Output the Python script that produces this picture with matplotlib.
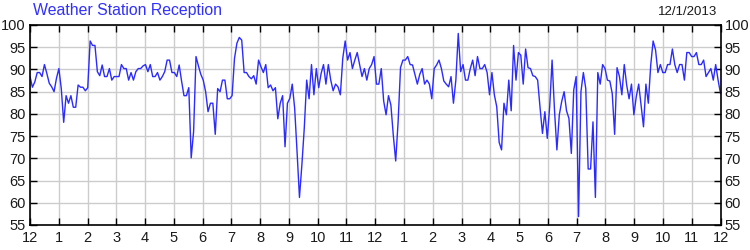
import numpy as np
import matplotlib
matplotlib.use("Agg")
import matplotlib.pyplot as plt

title = "Weather Station Reception"
date_label = "12/1/2013"
month_labels = ["12", "1", "2", "3", "4", "5", "6", "7", "8", "9", "10", "11",
                "12", "1", "2", "3", "4", "5", "6", "7", "8", "9", "10", "11", "12"]
y_ticks = [55, 60, 65, 70, 75, 80, 85, 90, 95, 100]

seg1 = [88.4, 86, 87.2, 89.3, 89.3, 88.4, 91.1, 89.1, 86.9, 86.1, 85, 88, 90.2, 85.7, 78.1, 84.1,
        82.4, 84.1, 81.5, 81.5, 86.5, 86, 86, 85.2, 85.9, 96.4, 95.4, 95.4, 89.5, 88.6, 91, 88.4,
        88.4, 90.2, 87.6, 88.4, 88.4, 88.4, 91.1, 90.2, 90.2, 87.6, 89.3, 87.6, 89.5, 90.2, 90.2, 90.8]
seg2 = [91.1, 89.5, 91.1, 88.4, 88.4, 89.3, 87.6, 88.4, 89.5, 92.1, 92.1, 89.3, 89.3, 88.4, 91, 87.4,
        84.1, 84.1, 85.9, 70.1, 76, 92.9, 90.8, 88.9, 87.6, 85, 80.5, 82.4, 82.4, 75.4, 85.7, 85,
        87.6, 87.6, 83.4, 83.4, 84.1, 92.5, 95.9, 97.2, 96.6, 89.3, 89.3, 88.4, 87.9, 88.6, 86.7, 92.1, 90.6]
seg3 = [89.3, 91.1, 85.9, 86.5, 85.2, 85.9, 78.9, 82.4, 84.1, 72.6, 82.4, 83.5, 86.7, 81.3, 71.5, 61.2,
        68.5, 76.8, 87.6, 83.4, 91.1, 84.3, 90.2, 85.9, 89.1, 91.1, 86.7, 91.1, 87.6, 85.2, 86.7, 86.1,
        84.3, 92.5, 96.4, 92.1, 93.8, 90.2, 92.1, 93.8, 91.1, 88.4, 90.2, 87.6, 90.2, 91.1, 92.9, 86.7]
seg4 = [86.7, 90.2, 82.9, 79.8, 84.1, 82, 75.2, 69.4, 78.2, 90.4, 92.1, 92.1, 92.9, 91.1, 91, 88.9,
        86.7, 88.9, 90.2, 86.7, 87.6, 86.7, 83.4, 90.2, 91, 92.1, 90.2, 87.4, 86.7, 86.1, 88.4, 82.4,
        87.6, 98.1, 89.5, 91.1, 87.6, 87.6, 90.2, 92.1, 88.6, 92.9, 90.2, 90.2, 91.1, 89.3, 84.3]
seg5 = [89.3, 84.3, 81.6, 73.6, 71.9, 82.4, 79.8, 87.6, 80.7, 95.4, 87.6, 93.8, 93.2, 86.7, 94.6, 90.4,
        90.2, 88.6, 88.4, 87.6, 81.4, 75.6, 80.5, 74.5, 81.6, 92.1, 80.9, 71.9, 79.8, 82.8, 85, 80.7,
        79, 71.1, 85.4, 88.4, 56.9, 85, 89.3, 85.7, 67.6, 67.6, 78.2, 61.2, 89.3, 86.7, 91.1, 90.2]
seg6 = [87.6, 87.4, 84.6, 75.4, 90.4, 88.4, 84.3, 91.1, 86.5, 83.4, 86.7, 79.8, 83.9, 86.7, 82, 77.1,
        86.7, 82.4, 91, 96.4, 94.4, 89.3, 91.1, 89.3, 89.3, 91.1, 91.1, 94.6, 91.1, 89.3, 91.1, 91.1,
        87.6, 93.8, 93.8, 92.9, 92.9, 93.8, 91.1, 91.1, 92.1, 88.4, 89.3, 90.2, 87.6, 91.1, 87.6, 84.6]

reception = np.array(seg1 + seg2 + seg3 + seg4 + seg5 + seg6)
months = np.linspace(0, len(month_labels) - 1, len(reception))

plt.rcParams['font.family'] = ['Liberation Sans', 'DejaVu Sans']

fig = plt.figure(figsize=(7.5, 2.5), dpi=100)
ax = fig.add_axes([30 / 750, 25 / 250, 690.5 / 750, 200 / 250])

ax.plot(months, reception, color='#2b2bff', lw=1.0)

ax.set_xlim(0, len(month_labels) - 1)
ax.set_ylim(55, 100)
ax.set_xticks(range(len(month_labels)))
ax.set_xticklabels(month_labels)
ax.set_yticks(y_ticks)
ax.set_yticklabels([str(v) for v in y_ticks])
ax.grid(True, color='#cccccc', lw=1.0)
ax.set_axisbelow(True)
for s in ax.spines.values():
    s.set_color('black')
    s.set_linewidth(1.2)
ax.tick_params(axis='both', direction='in', length=5, width=1, colors='black',
               labelcolor='#1a1a1a', labelsize=10.5, top=True, right=True,
               labelleft=True, labelright=True)
ax.tick_params(axis='x', pad=4)
ax.tick_params(axis='y', pad=3)

fig.text(33 / 750, 1 - 11 / 250, title, color='#3030ff', fontsize=11.4, va='center', ha='left')
fig.text(717 / 750, 1 - 12 / 250, date_label, color='#1a1a1a', fontsize=9.5, va='center', ha='right')

fig.savefig('out.png', dpi=100)
